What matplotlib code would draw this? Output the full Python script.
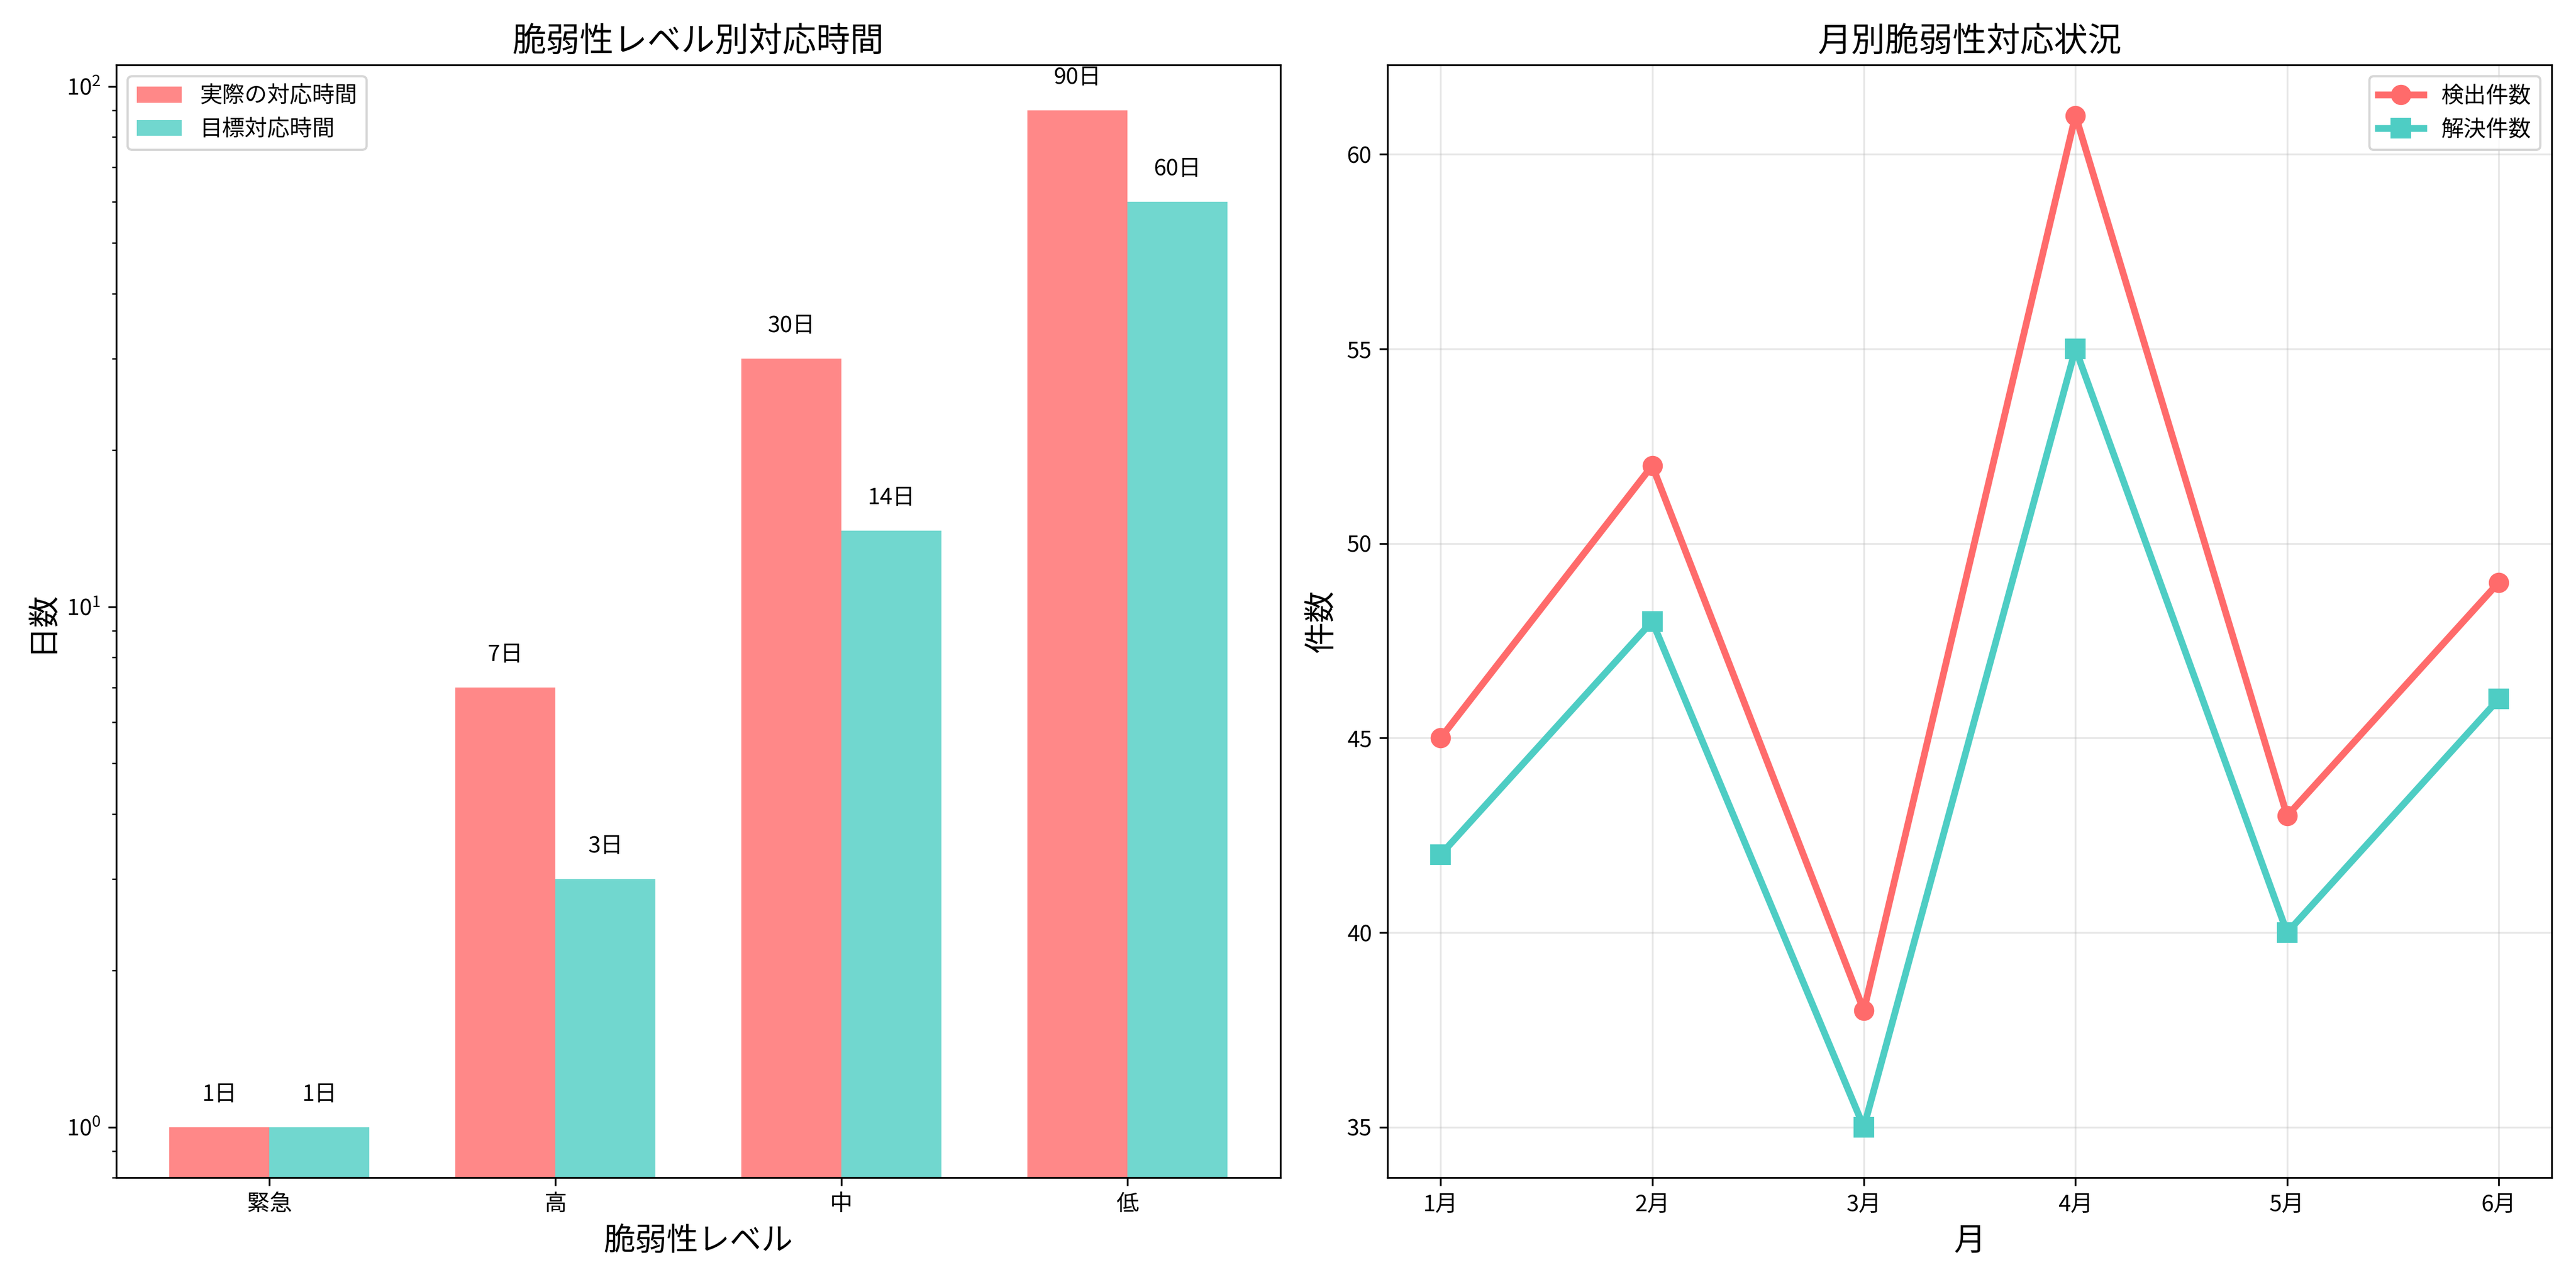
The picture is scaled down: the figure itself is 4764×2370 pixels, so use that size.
import matplotlib
matplotlib.use("Agg")
import matplotlib.pyplot as plt
import numpy as np

plt.rcParams['font.family'] = 'Noto Sans CJK JP'

levels = ['緊急', '高', '中', '低']
actual = [1, 7, 30, 90]
target = [1, 3, 14, 60]
months = ['1月', '2月', '3月', '4月', '5月', '6月']
detected = [45, 52, 38, 61, 43, 49]
resolved = [42, 48, 35, 55, 40, 46]

fig, (ax1, ax2) = plt.subplots(1, 2, figsize=(15.88, 7.9), dpi=300)
x = np.arange(len(levels))
w = 0.35
b1 = ax1.bar(x - w/2, actual, w, label='実際の対応時間', color='#FF6B6B', alpha=0.8)
b2 = ax1.bar(x + w/2, target, w, label='目標対応時間', color='#4ECDC4', alpha=0.8)
ax1.set_yscale('log')
for bars in (b1, b2):
    for b in bars:
        h = b.get_height()
        ax1.text(b.get_x() + b.get_width()/2, h*1.1, f'{h}日', ha='center', va='bottom', fontsize=10)
ax1.set_xticks(x)
ax1.set_xticklabels(levels)
ax1.set_xlabel('脆弱性レベル', fontsize=14)
ax1.set_ylabel('日数', fontsize=14)
ax1.set_title('脆弱性レベル別対応時間', fontsize=15)
ax1.set_ylim(0.8, 110)
ax1.legend(loc='upper left')

ax2.plot(months, detected, marker='o', linewidth=3, markersize=8, color='#FF6B6B', label='検出件数')
ax2.plot(months, resolved, marker='s', linewidth=3, markersize=8, color='#4ECDC4', label='解決件数')
ax2.set_xlabel('月', fontsize=14)
ax2.set_ylabel('件数', fontsize=14)
ax2.set_title('月別脆弱性対応状況', fontsize=15)
ax2.grid(True, alpha=0.3)
ax2.legend(loc='upper right')

plt.tight_layout()
plt.savefig('out.png', dpi=300)
